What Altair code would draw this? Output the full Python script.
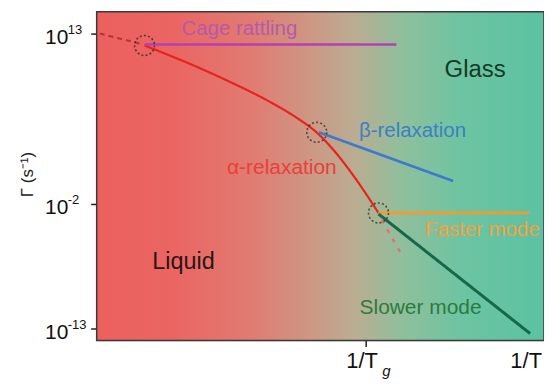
import altair as alt
import pandas as pd

FONT = "Liberation Sans"

# Axis domains (x: arbitrary 1/T units, y: log10 of rate)
x_domain = [0, 100]
y_domain = [-14.05, 14.93]

# Tick positions / labels
y_ticks = [13, -2, -13]
y_tick_base = ["10", "10", "10"]
y_tick_exp = ["13", "-2", "-13"]
x_ticks = [60.1, 96.8]
x_tick_labels = ["1/T", "1/T"]

# Curves (x, log10 rate)
dash_in_x = [0.7, 9.6]
dash_in_y = [13.0, 12.12]
alpha_x = [10.7, 18.5, 29.6, 38.5, 45.2, 49.2, 53.0, 57.5, 63.0]
alpha_y = [11.95, 10.72, 8.78, 7.03, 5.45, 4.28, 2.71, 0.42, -2.81]
alpha_ext_x = [63.7, 68.6]
alpha_ext_y = [-3.42, -6.76]
cage_x = [10.7, 67.0]
cage_y = [12.03, 12.03]
beta_x = [49.7, 79.7]
beta_y = [4.30, 0.0]
fast_x = [63.0, 96.7]
fast_y = [-2.81, -2.81]
slow_x = [63.0, 96.9]
slow_y = [-2.90, -13.44]

# Crossover circles
circ_x = [10.7, 49.2, 63.0]
circ_y = [11.95, 4.30, -2.81]

# Annotations
lab_text = ["Cage rattling", "Glass", "β-relaxation", "α-relaxation",
            "Faster mode", "Liquid", "Slower mode"]
lab_x = [31.9, 84.6, 70.6, 41.4, 86.2, 19.4, 72.4]
lab_y = [13.44, 9.75, 4.39, 1.14, -4.30, -7.11, -11.15]
lab_color = ["#b35aae", "#153a28", "#3b7fc4", "#e8403a", "#f5a040", "#2a1515", "#2e7a3e"]
lab_size = [20.5, 24, 20.5, 21, 20.5, 23.5, 21]

series = [
    ("lead", dash_in_x, dash_in_y),
    ("alpha", alpha_x, alpha_y),
    ("alpha_ext", alpha_ext_x, alpha_ext_y),
    ("cage", cage_x, cage_y),
    ("beta", beta_x, beta_y),
    ("fast", fast_x, fast_y),
    ("slow", slow_x, slow_y),
]
rows = []
for name, xs_, ys_ in series:
    for i, (a, b) in enumerate(zip(xs_, ys_)):
        rows.append({"s": name, "x": a, "y": b, "o": i})
lines_df = pd.DataFrame(rows)

s_domain = ["lead", "alpha", "alpha_ext", "cage", "beta", "fast", "slow"]
s_colors = ["#b83030", "#e8221c", "#ee6a6a", "#b43fb4", "#3d7acb", "#f39a30", "#17684a"]
s_dash = [[5, 4], [1, 0], [4, 7], [1, 0], [1, 0], [1, 0], [1, 0]]
s_width = [2, 3, 2, 3, 3.5, 3, 3]

xs = alt.Scale(domain=x_domain, nice=False, zero=False)
ys = alt.Scale(domain=y_domain, nice=False, zero=False)

bg_df = pd.DataFrame({"x": [x_domain[0]], "x2": [x_domain[1]],
                      "y": [y_domain[0]], "y2": [y_domain[1]]})

grad = alt.LinearGradient(
    gradient="linear", x1=0, x2=1, y1=0, y2=0,
    stops=[
        alt.GradientStop(color="#ec605e", offset=0),
        alt.GradientStop(color="#ea6663", offset=0.18),
        alt.GradientStop(color="#e07c72", offset=0.35),
        alt.GradientStop(color="#cd9884", offset=0.48),
        alt.GradientStop(color="#b9ad92", offset=0.58),
        alt.GradientStop(color="#90bf9c", offset=0.68),
        alt.GradientStop(color="#6cc4a2", offset=0.82),
        alt.GradientStop(color="#5bc2a2", offset=1),
    ],
)

bg = alt.Chart(bg_df).mark_rect(color=grad, stroke="#3a3a3a", strokeWidth=1.5).encode(
    x=alt.X("x:Q", scale=xs, axis=alt.Axis(
        values=x_ticks, labelExpr="'1/T'", title=None, grid=False, domain=False,
        labelFontSize=22, labelFont=FONT, labelColor="#111", labelPadding=4,
        labelOffset=-4, tickSize=6, tickWidth=1.5,
        tickColor={"condition": {"test": "datum.value > 90", "value": "transparent"}, "value": "#222"},
    )),
    x2="x2:Q",
    y=alt.Y("y:Q", scale=ys, axis=alt.Axis(
        values=y_ticks, labelExpr="'10'", grid=False, domain=False,
        title="Γ (s⁻¹)", titleFont=FONT, titleFontSize=17, titleFontWeight="normal",
        titleColor="#222", titleX=-69, titleY=163, titleAngle=270, titleAlign="center",
        titleBaseline="middle",
        labelFontSize=21, labelFont=FONT, labelColor="#111", labelPadding=23,
        labelOffset=4, tickSize=6, tickWidth=1.5, tickColor="#222",
    )),
    y2="y2:Q",
)

exp_df = pd.DataFrame({"x": [x_domain[0]] * 3, "y": y_ticks, "t": y_tick_exp})
exps = alt.Chart(exp_df).mark_text(font=FONT, fontSize=13, color="#111", align="left",
                                   baseline="middle", dx=-29, dy=-4).encode(
    x=alt.X("x:Q", scale=xs), y=alt.Y("y:Q", scale=ys), text="t:N")

lines = alt.Chart(lines_df).mark_line(interpolate="monotone").encode(
    x=alt.X("x:Q", scale=xs),
    y=alt.Y("y:Q", scale=ys),
    color=alt.Color("s:N", scale=alt.Scale(domain=s_domain, range=s_colors), legend=None),
    strokeDash=alt.StrokeDash("s:N", scale=alt.Scale(domain=s_domain, range=s_dash), legend=None),
    strokeWidth=alt.StrokeWidth("s:N", scale=alt.Scale(domain=s_domain, range=s_width), legend=None),
    order="o:Q",
)

circ_df = pd.DataFrame({"x": circ_x, "y": circ_y})
circles = alt.Chart(circ_df).mark_point(
    shape="circle", size=400, filled=False, color="#222", strokeWidth=1.6, strokeDash=[2, 2.2]
).encode(x=alt.X("x:Q", scale=xs), y=alt.Y("y:Q", scale=ys))

lab_df = pd.DataFrame({"t": lab_text, "x": lab_x, "y": lab_y, "c": lab_color, "fs": lab_size})
labels = alt.Chart(lab_df).mark_text(font=FONT, align="center", baseline="middle").encode(
    x=alt.X("x:Q", scale=xs),
    y=alt.Y("y:Q", scale=ys),
    text="t:N",
    color=alt.Color("c:N", scale=None),
    size=alt.Size("fs:Q", scale=None),
)

sub_df = pd.DataFrame({"x": [x_ticks[0]], "y": [y_domain[0]], "t": ["g"]})
sub = alt.Chart(sub_df).mark_text(font=FONT, fontSize=15, fontStyle="italic", color="#111",
                                  dx=21, dy=31, baseline="middle").encode(
    x=alt.X("x:Q", scale=xs), y=alt.Y("y:Q", scale=ys), text="t:N")

chart = alt.layer(bg, lines, circles, labels, exps, sub).properties(
    width=449, height=330,
    autosize=alt.AutoSizeParams(type="none"),
    padding={"left": 89, "top": 3, "right": 0, "bottom": 44},
).configure_view(stroke=None).configure(background="white")

chart.save("out.html", embed_options={"renderer": "svg", "actions": False})
